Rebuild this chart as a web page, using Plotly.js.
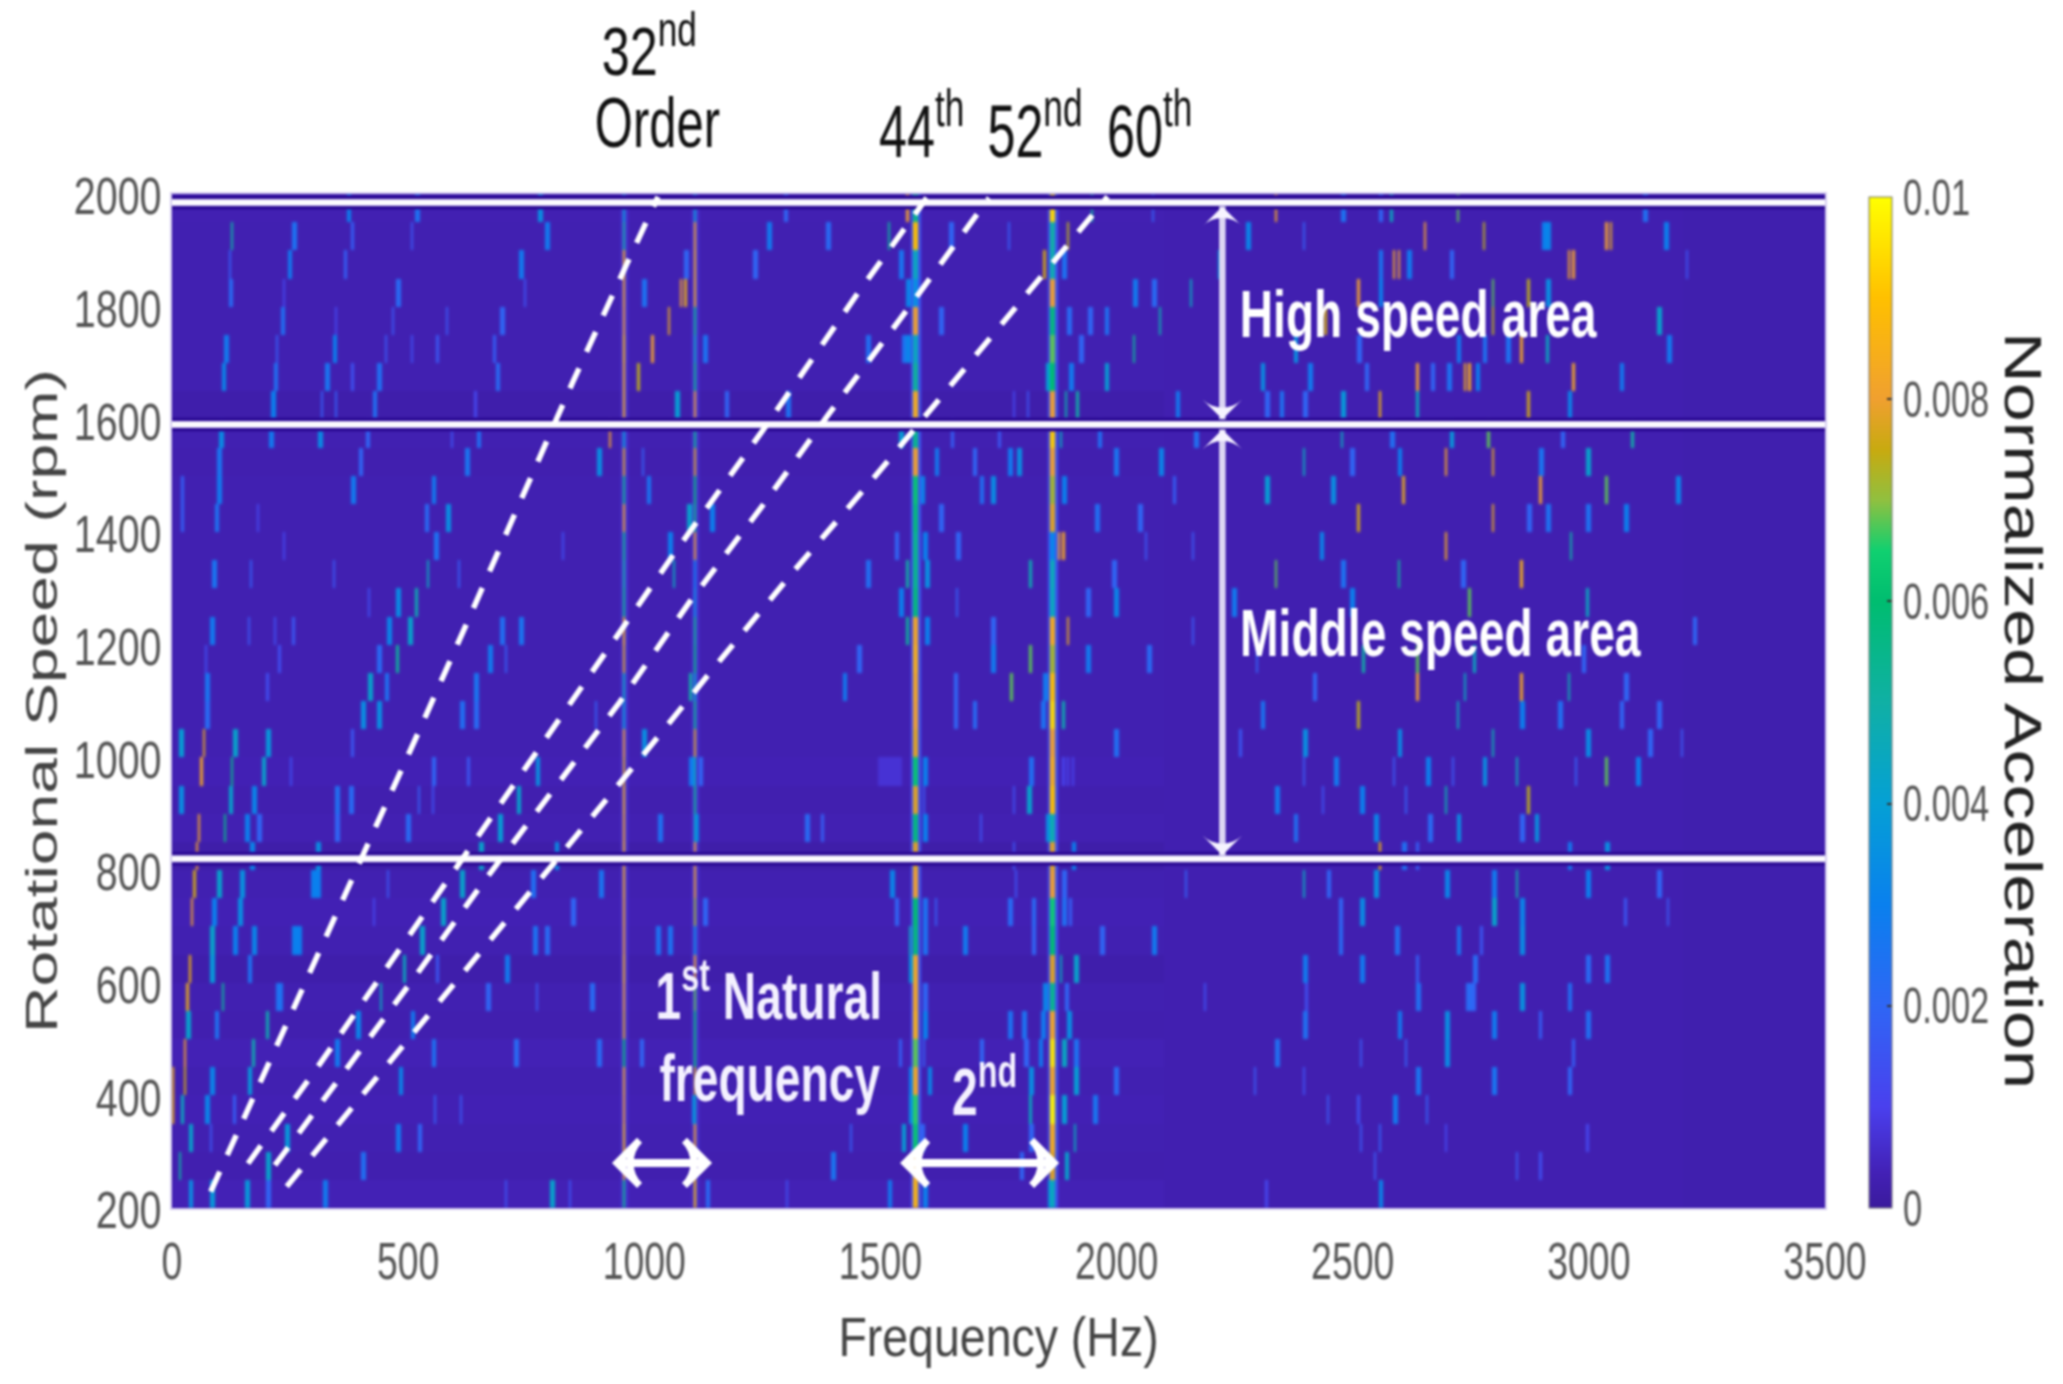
<!DOCTYPE html>
<html>
<head>
<meta charset="utf-8">
<script src="https://cdn.plot.ly/plotly-3.0.1.min.js"></script>
<style>html,body{margin:0;padding:0;background:#fff} #chart{filter:blur(0.9px)} .heatmaplayer image{filter:blur(1.1px)}</style>
</head>
<body>
<div id="chart" style="width:2063px;height:1384px"></div>
<script>
// Row centres (rpm), top row first
const speedRows = [1975,1925,1875,1825,1775,1725,1675,1625,1575,1525,1475,1425,1375,1325,1275,1225,1175,1125,1075,1025,975,925,875,825,775,725,675,625,575,525,475,425,375,325,275,225];
const freqCols = Array.from({length:700},(_,i)=>2.5+5*i);

// Background level per row below 2100 Hz
const lowBandLevel = [.0003,.00028,.00028,.00028,.00028,.00028,.00028,.0002,.00028,.00026,.00028,.00028,.00028,.00028,.00028,.00028,.00028,.00028,.00028,.00028,.00032,.00026,.0003,.00018,.00028,.00032,.00028,.0002,.00028,.00026,.00034,.00028,.00032,.00028,.00026,.00034];
const midBandLevel = .00027;
const highBandLevel = .00024;

// Natural-frequency columns, value per row
const natFreqA = 955;
const natValsA = [.004,.005,.0085,.0082,.008,.0088,.0085,.0085,.004,.0078,.0055,.0082,.0055,.005,.0055,.0085,.0078,.0045,.004,.008,.0078,.0084,.0082,.0084,.0084,.0082,.008,.0085,.008,.0078,.006,.0082,.008,.0086,.008,.0055];
const natFreqB = 1109;
const natValsB = [.004,.0082,.0084,.0085,.0055,.0045,.0055,.008,.0055,.0078,.006,.0055,.008,.003,.0035,.0055,.0058,.0042,.0055,.0078,.0045,.0055,.0043,.008,.0082,.0072,.0035,.0082,.0068,.006,.006,.0078,.0042,.0082,.0082,.009];
const natFreqC = 1574;
const natValsC = [.0055,.009,.0045,.0035,.008,.0045,.0052,.0084,.0055,.008,.0062,.0058,.0055,.0055,.0058,.0082,.0084,.0082,.008,.0078,.0062,.0078,.0058,.0078,.008,.006,.0058,.0082,.0082,.0084,.0068,.0082,.0066,.0062,.0082,.0086];
const natFreqD = 1863;
const natValsD = [.0094,.005,.0048,.008,.0058,.0068,.006,.008,.0092,.008,.0072,.0078,.0032,.0046,.0045,.0084,.0072,.009,.0094,.008,.0084,.009,.0048,.0078,.008,.0064,.006,.0078,.0055,.0082,.0096,.0082,.0098,.0084,.0078,.0045];
const natHaloAB = .0007;
const natHaloCD = .0015;

// Streaks per row, top row first: frequency, value, frequency, value, ...
const rowStreaks = [
 [370,.003,518,.0025,775,.0035,1558,.008,1297,.002,1946,.005,2076,.0018,2338,.0082,2584,.0045,2724,.0068,2475,.0025,3117,.0024,2556,.002],
 [126,.005,255,.0025,380,.0018,507,.0016,790,.0028,1262,.0028,1389,.0022,1518,.0052,1646,.002,1773,.0018,1897,.0074,2653,.008,2775,.0074,2912,.0032,2902,.003,3036,.008,3046,.0078,3161,.003,2278,.0032,2395,.0018],
 [248,.0028,366,.0018,122,.0018,736,.0028,1086,.002,1230,.002,1540,.0026,1845,.0076,1886,.0025,2219,.0038,2588,.0082,2598,.008,2616,.0028,2958,.0082,2968,.008,2556,.0026,2708,.002,3205,.0015],
 [122,.0022,478,.0022,747,.0015,239,.0012,997,.0025,1078,.008,1088,.0078,1558,.0032,2038,.0028,2158,.0045,2076,.0022,2514,.008,2556,.003,2912,.0035,2796,.0068,2874,.0074],
 [230,.0024,698,.002,581,.0016,465,.0016,1050,.0078,349,.0012,1629,.002,1897,.0022,1978,.0025,2094,.0048,1942,.002,2443,.0076,2796,.0074,3145,.0042],
 [112,.0028,340,.003,222,.0018,451,.0016,507,.0014,564,.0016,680,.0018,1017,.008,1128,.0025,1559,.0032,1549,.0025,2038,.0052,1921,.002,1473,.0024,2856,.0082,2912,.0045,2722,.0028,2775,.0025,2828,.0025,3168,.0028,2376,.0035,2514,.002],
 [107,.0032,218,.0024,327,.0026,380,.0015,438,.0024,686,.0022,985,.0074,1851,.004,1904,.0028,1978,.004,2637,.008,2736,.0085,2746,.0084,2967,.0082,2405,.0028,2309,.0035,2665,.002,2704,.0025,2764,.003,3065,.0028,2528,.002],
 [211,.003,319,.0018,345,.0018,426,.0024,642,.0012,1067,.004,1170,.002,1304,.0025,1890,.0048,1918,.005,2129,.0028,1784,.0012,1812,.0015,2556,.009,2637,.0045,2872,.0076,2957,.0032,2475,.0038,2345,.0025,2316,.002,2395,.002],
 [102,.0034,206,.0028,310,.0034,412,.002,592,.0015,645,.0024,928,.008,1544,.004,1883,.0045,1960,.0024,1650,.0018,1752,.0016,2165,.0024,2475,.0045,2708,.0038,2789,.0068,3092,.005,2581,.0024,2941,.002],
 [98,.0026,398,.002,620,.0026,900,.0035,997,.0018,1618,.0028,1770,.0028,1794,.0035,1995,.0026,2094,.0032,1696,.002,2395,.0045,2595,.003,2695,.0082,2795,.0078,2995,.0042,2496,.002,2898,.0026],
 [95,.0028,384,.0028,553,.0028,1008,.0026,21,.0018,1586,.0032,1713,.0024,1738,.0034,1886,.003,2122,.0018,2315,.004,2457,.0035,2607,.0078,2898,.008,3036,.0068,3186,.0032],
 [91,.0025,21,.0018,536,.0022,581,.0035,183,.0012,1093,.0042,1142,.003,1625,.002,1957,.0024,2048,.002,2514,.0076,2795,.0078,2912,.0025,2995,.0025,3075,.003,2874,.002],
 [239,.0012,557,.0025,828,.0014,1054,.003,1593,.003,1660,.002,1879,.0082,1889,.0082,2060,.0016,2161,.0016,1530,.002,2696,.0084,2962,.005,2433,.0032],
 [86,.0026,169,.0018,540,.0045,341,.0016,606,.0018,1061,.0045,1558,.005,1597,.0035,1817,.0048,1470,.0024,1992,.002,2338,.0068,2595,.0052,2856,.0085,2475,.0025,2732,.002],
 [479,.0034,518,.0048,416,.0014,1540,.003,1995,.0032,1660,.0018,1939,.002,2747,.0068,2496,.003,2995,.0045,2246,.0028],
 [81,.0028,162,.0016,257,.0016,500,.0042,458,.0032,218,.0014,698,.0024,738,.0026,1558,.0052,1597,.003,1899,.0078,1738,.002,2161,.0016,3220,.002],
 [479,.0052,670,.0028,437,.0022,708,.0018,70,.0014,229,.0014,1817,.0068,1738,.0028,1939,.0028,1452,.002,2069,.0022,2295,.0018,2524,.005,2637,.0068,2757,.0045,2986,.002],
 [419,.0042,72,.0026,641,.0026,454,.0025,200,.0014,1420,.0028,1777,.0068,1096,.005,1657,.002,1847,.0028,2637,.008,2736,.0045,2856,.0082,2955,.0048,2419,.002,3075,.002],
 [70,.0022,404,.0035,437,.0035,613,.0024,643,.0022,899,.0018,1886,.0048,1657,.002,1696,.0022,1840,.0025,2514,.0074,2308,.0026,2722,.0045,2858,.003,2938,.0024,3067,.002,3145,.002],
 [66,.0078,16,.004,130,.0042,200,.0038,380,.0016,997,.0035,1995,.0024,2395,.0035,2595,.0034,2795,.0048,2995,.0034,3127,.002,3198,.0016,2261,.0016],
 [63,.0082,125,.0055,190,.0042,553,.002,250,.0014,627,.0016,772,.0036,1096,.0028,1118,.002,1498,.0007,1508,.0007,1518,.0007,1528,.0007,1538,.0007,1593,.003,1819,.0024,1886,.0011,1896,.0011,1906,.0011,2463,.0028,2395,.0016,2655,.003,2586,.0016,2776,.0035,2845,.0045,3036,.0068,3101,.003,2711,.0016,2971,.0018],
 [16,.0035,122,.0042,172,.0032,345,.0024,377,.0022,521,.0018,553,.0015,733,.0042,1593,.0016,1812,.0042,1780,.0014,2338,.0028,2515,.003,2696,.0048,2873,.0074,2614,.0018,2436,.0015],
 [56,.0082,112,.0055,157,.003,183,.002,345,.002,497,.0022,691,.004,1031,.0025,1107,.0032,1343,.0022,1375,.0018,1593,.003,1854,.0035,1713,.0015,2378,.0024,2546,.0032,2660,.0022,2722,.0035,2886,.0036,2858,.002],
 [51,.008,169,.0032,305,.0035,652,.0042,814,.0034,1907,.003,1780,.0015,2556,.009,3036,.0035,2955,.0028,2607,.0024,2637,.0018],
 [49,.0076,95,.0042,147,.0036,296,.003,306,.003,610,.0042,761,.0024,909,.0026,458,.0016,1523,.0032,1786,.0015,1886,.002,2147,.0018,2395,.0045,2546,.0035,2696,.0032,2845,.0048,2995,.003,2795,.0028,2447,.002,3147,.002],
 [44,.008,88,.003,140,.0035,571,.0042,849,.002,426,.0012,1128,.002,1533,.002,1593,.0025,1770,.0022,1822,.0022,1886,.0024,1618,.0018,1900,.0018,2515,.0034,2795,.0042,2858,.0032,2472,.002,3077,.0016,3168,.0016],
 [84,.0042,172,.0032,258,.003,268,.003,130,.003,528,.0042,766,.0025,791,.0022,1029,.0025,1050,.0025,1562,.0045,1678,.0028,1822,.002,1967,.002,2076,.0028,1593,.0025,2472,.0022,2593,.0024,2722,.0026,2858,.0034,2771,.0016],
 [38,.009,81,.0038,162,.0025,490,.0045,708,.0028,560,.0016,1562,.0036,1883,.0045,1914,.0042,2395,.0028,2515,.0028,2995,.0022,3036,.0025,2637,.0018,2757,.0022],
 [31,.0078,107,.0052,222,.0025,229,.0025,440,.0045,666,.002,888,.0022,772,.0016,1847,.0032,1593,.002,1893,.002,2637,.0024,2740,.0022,2750,.002,2858,.0036,2958,.0024,2186,.0014,2401,.0014],
 [30,.0042,91,.0025,204,.0048,394,.0032,507,.0028,1593,.003,1770,.0025,1802,.0025,1844,.0028,1897,.0035,2395,.0024,2595,.0028,2696,.0035,2795,.0028,2995,.0024,2898,.0018],
 [26,.008,172,.0048,349,.0028,550,.0025,726,.0022,902,.0022,994,.002,1837,.0028,1886,.0044,1911,.0025,1808,.002,1593,.0018,1710,.002,1540,.0018,2338,.0024,2696,.0034,2515,.0016,2613,.0018,2965,.0018],
 [2,.0088,28,.0076,81,.0032,164,.0038,483,.0032,1604,.0032,1911,.004,1815,.0035,1995,.0022,1562,.003,2637,.0026,2290,.0016,2795,.0026,2955,.002,2395,.0014],
 [21,.0045,2,.009,70,.0032,133,.0018,557,.0018,610,.0016,1103,.003,1562,.0035,1819,.0045,1886,.004,1953,.0026,2586,.0028,2655,.0018,2514,.0014,2445,.0016],
 [38,.0042,81,.0016,243,.0038,479,.0028,521,.002,1548,.004,1675,.003,1914,.0045,1586,.002,1438,.0018,1815,.002,2556,.0018,2515,.0016,2995,.0012,2696,.0012],
 [16,.005,200,.0042,401,.0024,1399,.0026,1890,.0042,1837,.002,1795,.002,2546,.0016,2845,.0016,2898,.0014],
 [38,.0035,81,.0038,155,.0038,200,.002,320,.0028,800,.0042,708,.0015,842,.0015,1519,.0028,1590,.003,1858,.0035,1131,.0022,1300,.0014,2556,.0032,2318,.0012]
];

// Dashed order lines
const order32Hz = [82,186,299,412,521,631,740,849,962,1029];
const order32Rpm = [229,422,628,839,1043,1251,1457,1667,1874,1995];
const order44Hz = [161,309,500,690,880,1071,1259,1452,1598];
const order44Rpm = [279,451,681,910,1137,1371,1590,1824,1993];
const order52Hz = [218,366,514,658,806,948,1096,1248,1392,1540,1730];
const order52Rpm = [276,442,610,777,942,1098,1276,1444,1611,1776,1993];
const order60Hz = [243,398,550,705,859,1011,1164,1318,1477,1632,1788,1981];
const order60Rpm = [238,395,551,706,862,1018,1176,1332,1487,1643,1800,1995];

// Horizontal speed boundaries
const speedBounds = [1985,1591,820];
const axisFreqEnds = [0,3500];

// Double-headed arrows
const speedArrowHz = [2224,2224];
const highArrowRpm = [1978,1600];
const midArrowRpm = [1582,826];
const natArrowRpm = [280,280];
const nat1ArrowHz = [942,1133];
const nat2ArrowHz = [1552,1868];

const xTicks = [0,500,1000,1500,2000,2500,3000,3500];
const yTicks = [200,400,600,800,1000,1200,1400,1600,1800,2000];
const cbTicks = [0,.002,.004,.006,.008,.01];
const cbLabels = ['0','0.002','0.004','0.006','0.008','0.01'];

const SANS = '"Liberation Sans",Arial,sans-serif';

const z = speedRows.map((_,r)=>freqCols.map(f=> f<2100 ? lowBandLevel[r] : (f<3200 ? midBandLevel : highBandLevel)));
function put(c,r,v){ if(c>=0&&c<700) z[r][c]=Math.max(z[r][c],v); }
rowStreaks.forEach((list,r)=>{ for(let i=0;i<list.length;i+=2){
  const c=Math.floor(list[i]/5), v=list[i+1];
  put(c,r,v); if(v<.0045 && (v>=.002 || v<.0011)) put(c+1,r,v);
}});
[[natFreqA,natValsA,natHaloAB,1],[natFreqB,natValsB,natHaloAB,1],[natFreqC,natValsC,natHaloCD,2],[natFreqD,natValsD,natHaloCD,2]].forEach(([f,vals,h,n])=>vals.forEach((v,r)=>{
  const c=Math.floor(f/5); put(c-1,r,h); put(c+n,r,h); put(c,r,v); if(n>1) put(c+1,r,v);
}));

const parula = [
 [0,'#3a1a9c'],[.035,'#4321b6'],[.1,'#4a40ee'],[.2,'#2f66f5'],[.3,'#0a80ee'],[.4,'#05a0d5'],
 [.5,'#10b0a5'],[.6,'#00bd70'],[.65,'#10d070'],[.7,'#90c040'],[.75,'#c8aa10'],[.8,'#f0a030'],
 [.9,'#ffc000'],[.95,'#ffe000'],[1,'#ffff00']];

const traces = [{
  type:'heatmap', x:freqCols, y:speedRows, z:z, zmin:0, zmax:.01, zsmooth:false,
  colorscale:parula, hoverinfo:'skip',
  colorbar:{
    x:1.0266, xanchor:'left', xpad:0, y:.4985, yanchor:'middle', ypad:0,
    len:.997, lenmode:'fraction', thickness:23, thicknessmode:'pixels',
    outlinewidth:1, outlinecolor:'#777',
    ticks:'inside', ticklen:5, tickcolor:'#333', tickwidth:2,
    tickvals:cbTicks, ticktext:cbLabels,
    tickfont:{family:SANS,size:50,color:'#555'},
    title:{text:'Normalized Acceleration',side:'right',font:{family:SANS,size:52,color:'#222'}}
  }
}];

speedBounds.forEach(b=>{
  traces.push({type:'scatter',mode:'lines',x:axisFreqEnds,y:[b,b],line:{color:'#2d0c96',width:14},hoverinfo:'skip',showlegend:false});
  traces.push({type:'scatter',mode:'lines',x:axisFreqEnds,y:[b,b],line:{color:'#d9d2f2',width:7},hoverinfo:'skip',showlegend:false});
  traces.push({type:'scatter',mode:'lines',x:axisFreqEnds,y:[b,b],line:{color:'#ffffff',width:4},hoverinfo:'skip',showlegend:false});
});
[[order32Hz,order32Rpm],[order44Hz,order44Rpm],[order52Hz,order52Rpm],[order60Hz,order60Rpm]].forEach(([x,y])=>{
  traces.push({type:'scatter',mode:'lines',x:x,y:y,line:{color:'#ffffff',width:5.5,dash:'22px,18px'},hoverinfo:'skip',showlegend:false});
});
[highArrowRpm,midArrowRpm].forEach(y=>{
  traces.push({type:'scatter',mode:'lines+markers',x:speedArrowHz,y:y,line:{color:'#dcd6f3',width:6.5},
    marker:{symbol:'arrow-wide',size:28,angle:[0,180],color:'#f6f3ff',line:{width:0}},hoverinfo:'skip',showlegend:false});
});
[nat1ArrowHz,nat2ArrowHz].forEach(x=>{
  traces.push({type:'scatter',mode:'lines+markers',x:x,y:natArrowRpm,line:{color:'#ffffff',width:8},
    marker:{symbol:'arrow-wide-open',size:32,angle:[-90,90],color:'#ffffff',line:{color:'#ffffff',width:7}},hoverinfo:'skip',showlegend:false});
});

function label(text,x,y,size,color,opts){
  return Object.assign({text:text,x:x,y:y,xref:'x',yref:'y',showarrow:false,xanchor:'center',yanchor:'middle',
    font:{family:SANS,size:size,color:color}},opts||{});
}
function topLabel(text,x,y,size){ return label(text,x,y,size||74,'#111',{yref:'paper'}); }

const annotations = [
  topLabel('32<sup>nd</sup>',1011,1.146,68),
  topLabel('Order',1028,1.07,70),
  topLabel('44<sup>th</sup>',1589,1.067),
  topLabel('52<sup>nd</sup>',1828,1.067),
  topLabel('60<sup>th</sup>',2071,1.067),
  label('<b>High speed area</b>',2639,1787,66,'#fff'),
  label('<b>Middle speed area</b>',2686,1221,66,'#fff'),
  label('<b>1<sup>st</sup> Natural</b>',1263,585,66,'#f4f1ff'),
  label('<b>frequency</b>',1267,431,66,'#f4f1ff'),
  label('<b>2<sup>nd</sup></b>',1720,415,66,'#f4f1ff')
];

const layout = {
  width:2063, height:1384, autosize:false,
  margin:{l:172,r:238,t:194,b:176,pad:0,autoexpand:false},
  paper_bgcolor:'#fff', plot_bgcolor:'#3f1fa8',
  showlegend:false,
  xaxis:{range:[0,3500],tickvals:xTicks,ticks:'',showgrid:false,zeroline:false,
    showline:true,mirror:true,linecolor:'#d4ccef',linewidth:2,
    ticklabelstandoff:16,tickfont:{family:SANS,size:52,color:'#555'},
    title:{text:'Frequency (Hz)',standoff:10,font:{family:SANS,size:56,color:'#444'}}},
  yaxis:{range:[200,2000],tickvals:yTicks,ticks:'',showgrid:false,zeroline:false,
    showline:true,mirror:true,linecolor:'#d4ccef',linewidth:2,
    ticklabelstandoff:10,tickfont:{family:SANS,size:52,color:'#555'},
    title:{text:'Rotational Speed (rpm)',standoff:8,font:{family:SANS,size:44,color:'#444'}}},
  annotations:annotations
};

// The reference's lettering is condensed: scale each text along its reading direction.
function squeeze(selector,sx,ox,dx,dy,flip){
  document.querySelectorAll(selector).forEach(t=>{
    const b=t.getBBox(), cx=b.x+b.width*ox, cy=b.y+b.height/2, o=t.getAttribute('transform')||'';
    const s = flip ? -1 : 1;
    t.setAttribute('transform',`translate(${dx||0},${dy||0}) ${o} translate(${cx},${cy}) scale(${s*sx},${s}) translate(${-cx},${-cy})`);
  });
}

Plotly.newPlot('chart',traces,layout,{displayModeBar:false,responsive:false}).then(()=>{
  squeeze('.cartesianlayer .ytick text',.76,1,12,2);
  squeeze('.cartesianlayer .xtick text',.72,.5,0,-9);
  squeeze('.cbaxis text',.69,0);
  squeeze('.g-xtitle text',.83,.5,0,6);
  squeeze('.g-ytitle text',1.46,.5,17,0);
  squeeze('.cbtitle text',1.35,.5,-36,8,true);
  document.querySelectorAll('.annotation-text').forEach(t=>{
    const s=t.textContent;
    const sx = (s==='Order') ? .70 : (/^32/.test(s) ? .74 : (/^(44|52|60)/.test(s) ? .68 : .70));
    const b=t.getBBox(), cx=b.x+b.width/2, cy=b.y+b.height/2, o=t.getAttribute('transform')||'';
    t.setAttribute('transform',`${o} translate(${cx},${cy}) scale(${sx},1) translate(${-cx},${-cy})`);
  });
});
</script>
</body>
</html>
